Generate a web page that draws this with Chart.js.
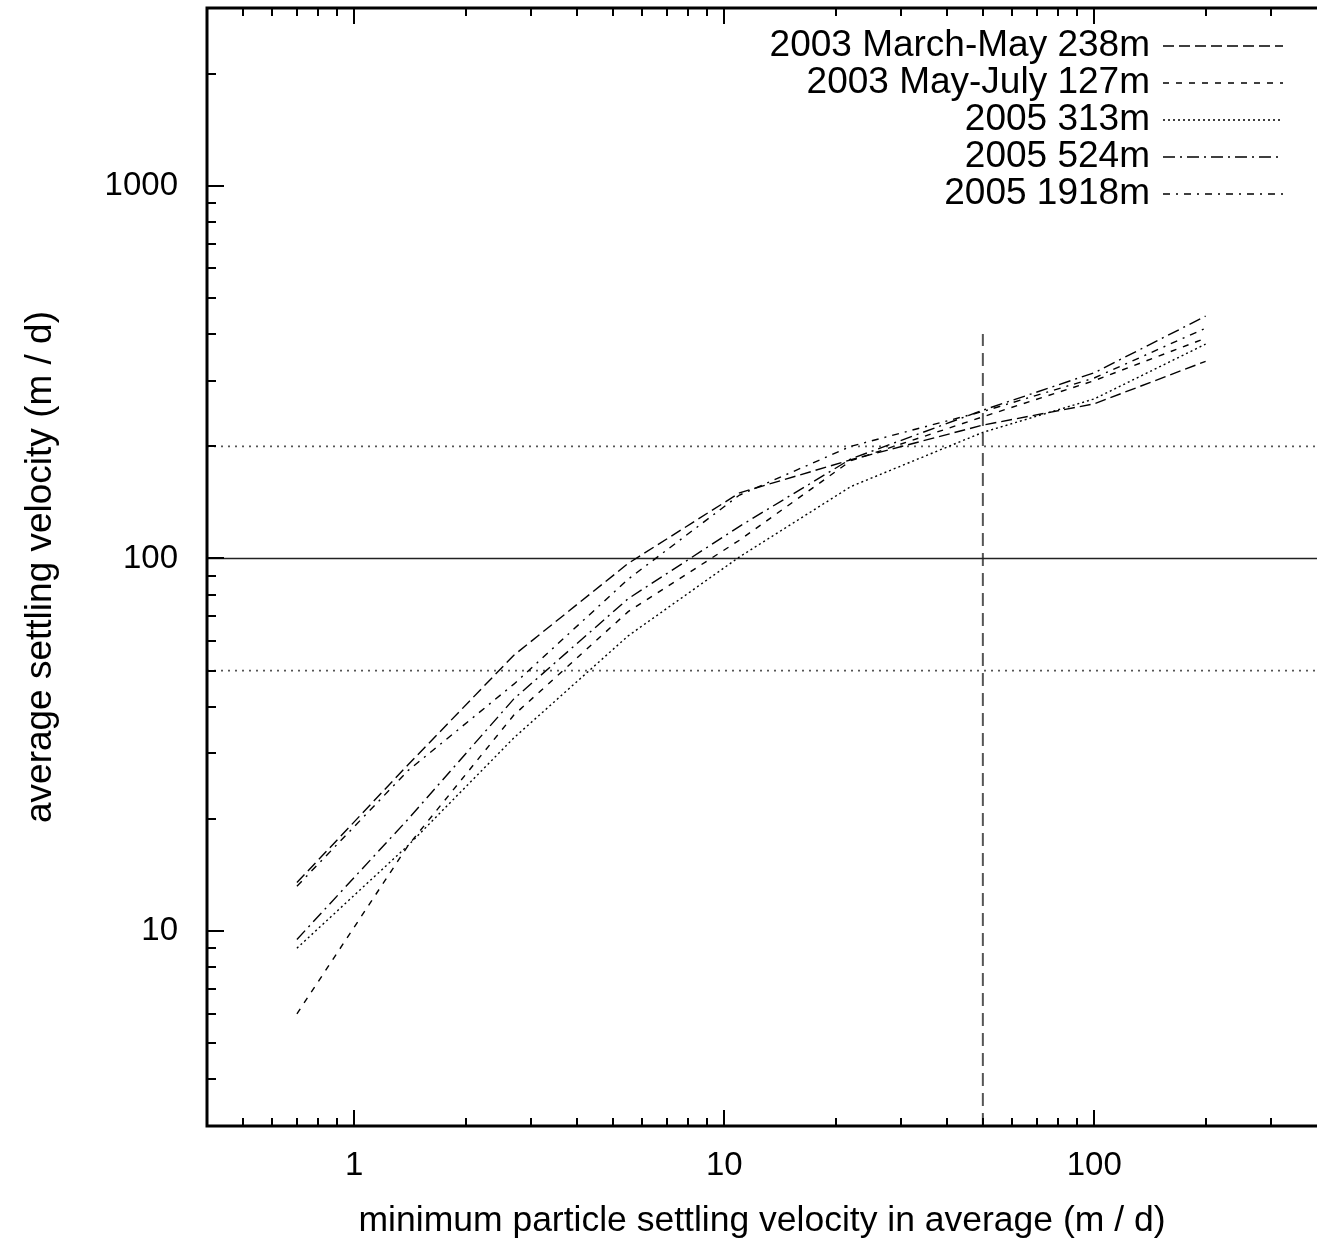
<!DOCTYPE html>
<html>
<head>
<meta charset="utf-8">
<script src="https://cdn.jsdelivr.net/npm/chart.js@4"></script>
<style>
  html, body { margin: 0; padding: 0; background: #fff; }
</style>
</head>
<body>
<canvas id="chart" width="1318" height="1247"></canvas>
<script>
// values (log-log)
const xValues = [0.7, 1.4, 2.7, 5.5, 11, 22, 50, 100, 200];
const seriesNames = ['2003 March-May 238m', '2003 May-July 127m', '2005 313m', '2005 524m', '2005 1918m'];
const marchMay238 = [13.5, 28, 55, 97, 150, 184, 228, 260, 338];
const mayJuly127 = [6, 17, 38, 72, 112, 183, 240, 300, 390];
const y2005m313 = [9, 17, 33, 62, 101, 156, 218, 268, 376];
const y2005m524 = [9.5, 20, 42, 78, 122, 185, 250, 315, 447];
const y2005m1918 = [13.2, 27, 46, 88, 148, 200, 248, 305, 415];
const seriesDash = [[11, 5], [6, 7], [2, 3], [12, 5, 2, 5], [7, 6, 2, 6]];

const xRange = [0.4, 400];
const yRange = [3, 3000];
const xTickValues = [1, 10, 100];
const yTickValues = [10, 100, 1000];
const refLevels = [50, 100, 200];   // horizontal guide lines
const refX = 50;                     // vertical guide line
const refXTop = 400;

const FONT = '"Liberation Sans", Arial, Helvetica, sans-serif';

const seriesData = [marchMay238, mayJuly127, y2005m313, y2005m524, y2005m1918];

const datasets = seriesData.map((vals, i) => ({
  label: seriesNames[i],
  data: vals.map((v, j) => ({ x: xValues[j], y: v })),
  borderColor: '#000',
  borderWidth: 1.4,
  borderDash: seriesDash[i],
  pointRadius: 0,
  tension: 0,
  fill: false
}));

refLevels.forEach(level => {
  datasets.push({
    label: 'ref' + level,
    data: [{ x: xRange[0], y: level }, { x: xRange[1], y: level }],
    borderColor: level === 100 ? '#222' : '#555',
    borderWidth: level === 100 ? 1.6 : 1.8,
    borderDash: level === 100 ? [] : [2, 5],
    pointRadius: 0
  });
});
datasets.push({
  label: 'refx',
  data: [{ x: refX, y: yRange[0] }, { x: refX, y: refXTop }],
  borderColor: '#555',
  borderWidth: 2,
  borderDash: [13, 7],
  pointRadius: 0
});

// frame with inward ticks, gnuplot style
const framePlugin = {
  id: 'frame',
  afterDatasetsDraw(chart) {
    const { ctx, chartArea: a, scales } = chart;
    const sx = scales.x, sy = scales.y;
    ctx.save();
    ctx.strokeStyle = '#000';
    ctx.lineWidth = 3;
    ctx.beginPath();
    ctx.moveTo(a.right, a.top);
    ctx.lineTo(a.left, a.top);
    ctx.lineTo(a.left, a.bottom);
    ctx.lineTo(a.right, a.bottom);
    ctx.stroke();

    ctx.lineWidth = 2;
    ctx.beginPath();
    [0.1, 1, 10, 100].forEach(d => {
      for (let m = 1; m <= 9; m++) {
        const v = m * d;
        if (v <= xRange[0] || v >= xRange[1]) continue;
        const len = m === 1 ? 16 : 8;
        const px = Math.round(sx.getPixelForValue(v));
        ctx.moveTo(px, a.bottom); ctx.lineTo(px, a.bottom - len);
        ctx.moveTo(px, a.top); ctx.lineTo(px, a.top + len);
      }
    });
    [1, 10, 100, 1000].forEach(d => {
      for (let m = 1; m <= 9; m++) {
        const v = m * d;
        if (v <= yRange[0] || v >= yRange[1]) continue;
        const len = m === 1 ? 17 : 9;
        const py = Math.round(sy.getPixelForValue(v));
        ctx.moveTo(a.left, py); ctx.lineTo(a.left + len, py);
      }
    });
    ctx.stroke();
    ctx.restore();
  }
};

// key in the top right corner: text first, line sample after it
const keyPlugin = {
  id: 'key',
  afterDraw(chart) {
    const ctx = chart.ctx;
    ctx.save();
    ctx.font = '37px ' + FONT;
    ctx.textAlign = 'right';
    ctx.textBaseline = 'middle';
    seriesNames.forEach((name, i) => {
      const yy = 46 + i * 37;
      ctx.fillStyle = '#000';
      ctx.fillText(name, 1150, yy);
      ctx.strokeStyle = '#000';
      ctx.lineWidth = 1.4;
      ctx.setLineDash(seriesDash[i]);
      ctx.beginPath();
      ctx.moveTo(1163, yy);
      ctx.lineTo(1283, yy);
      ctx.stroke();
    });
    ctx.restore();
  }
};

function noPadding(s) {
  s.paddingTop = 0; s.paddingBottom = 0; s.paddingLeft = 0; s.paddingRight = 0;
}

new Chart(document.getElementById('chart'), {
  type: 'line',
  data: { datasets },
  options: {
    responsive: false,
    animation: false,
    devicePixelRatio: 1,
    layout: { padding: { top: 8, right: 1, left: 0, bottom: 0 } },
    plugins: { legend: { display: false }, tooltip: { enabled: false } },
    scales: {
      x: {
        type: 'logarithmic',
        min: xRange[0],
        max: xRange[1],
        grid: { display: false },
        border: { display: false },
        afterBuildTicks: s => { s.ticks = xTickValues.map(v => ({ value: v })); },
        afterFit: s => { s.height = 121; noPadding(s); },
        ticks: {
          autoSkip: false,
          maxRotation: 0,
          padding: 12,
          color: '#000',
          font: { family: FONT, size: 33 },
          callback: v => String(v)
        },
        title: {
          display: true,
          text: 'minimum particle settling velocity in average (m / d)',
          color: '#000',
          font: { family: FONT, size: 35.5 },
          padding: { top: 0, bottom: 4 }
        }
      },
      y: {
        type: 'logarithmic',
        min: yRange[0],
        max: yRange[1],
        grid: { display: false },
        border: { display: false },
        afterBuildTicks: s => { s.ticks = yTickValues.map(v => ({ value: v })); },
        afterFit: s => { s.width = 207; noPadding(s); },
        ticks: {
          autoSkip: false,
          padding: 21,
          color: '#000',
          font: { family: FONT, size: 33 },
          callback: v => String(v)
        },
        title: {
          display: true,
          text: 'average settling velocity (m / d)',
          color: '#000',
          font: { family: FONT, size: 37 },
          padding: { top: 19, bottom: 0 }
        }
      }
    }
  },
  plugins: [framePlugin, keyPlugin]
});
</script>
</body>
</html>
